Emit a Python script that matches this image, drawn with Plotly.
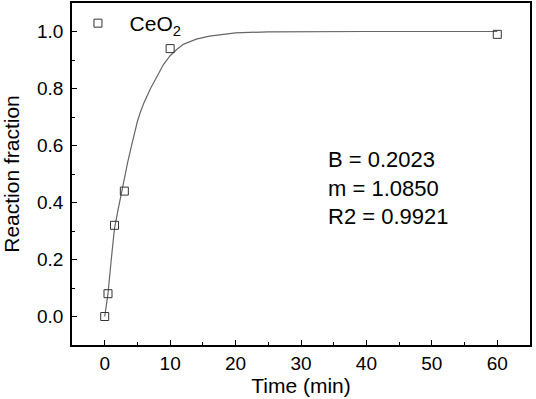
import plotly.graph_objects as go

# measured data
time_pts = [0, 0.5, 1.5, 3, 10, 60]
frac_pts = [0.0, 0.08, 0.32, 0.44, 0.94, 0.99]

# fitted curve
fit_t = [0, 0.5, 1, 1.5, 2, 2.5, 3, 3.5, 4, 4.5, 5, 5.5, 6, 7, 8, 9, 10, 11, 12, 13, 14, 16, 18, 20, 25, 30, 40, 50, 60]
fit_y = [0.0, 0.08, 0.2, 0.31, 0.37, 0.43, 0.49, 0.54, 0.59, 0.64, 0.685, 0.72, 0.75, 0.80, 0.845, 0.885, 0.915,
         0.937, 0.955, 0.965, 0.973, 0.984, 0.99, 0.995, 0.999, 1.0, 1.0, 1.0, 1.0]

x_ticks = [0, 10, 20, 30, 40, 50, 60]
y_ticks = [0.0, 0.2, 0.4, 0.6, 0.8, 1.0]
y_tick_text = ["0.0", "0.2", "0.4", "0.6", "0.8", "1.0"]

fit_text = "B = 0.2023<br>m = 1.0850<br>R2 = 0.9921"
series_name = "CeO<sub>2</sub>"

FONT = "Arial, Liberation Sans, sans-serif"

fig = go.Figure()
fig.add_trace(go.Scatter(x=fit_t, y=fit_y, mode="lines", showlegend=False,
                         line=dict(color="#666666", width=1.2)))
fig.add_trace(go.Scatter(x=time_pts, y=frac_pts, mode="markers", name="\u00a0\u00a0" + series_name,
                         marker=dict(symbol="square-open", size=8, color="#333333",
                                     line=dict(width=1, color="#333333"))))

axis_common = dict(showline=True, linecolor="black", linewidth=1.5, mirror=True,
                   ticks="inside", ticklen=5, tickwidth=1.2, tickcolor="black",
                   showgrid=False, zeroline=False, automargin=False,
                   tickfont=dict(family=FONT, size=19, color="black"))

fig.update_xaxes(range=[-5, 65], tickvals=x_ticks,
                 minor=dict(ticks="inside", ticklen=3, dtick=5, tick0=0, tickcolor="black"),
                 title=dict(text="Time (min)", font=dict(family=FONT, size=21, color="black"), standoff=4),
                 ticklabelstandoff=0,
                 **axis_common)
fig.update_yaxes(range=[-0.1, 1.1], tickvals=y_ticks, ticktext=y_tick_text,
                 minor=dict(ticks="inside", ticklen=3, dtick=0.1, tick0=0, tickcolor="black"),
                 title=dict(text="Reaction fraction", font=dict(family=FONT, size=21, color="black"), standoff=28),
                 ticklabelstandoff=3,
                 **axis_common)

fig.add_annotation(text=fit_text, xref="paper", yref="paper", x=0.555, y=0.459,
                   xanchor="left", yanchor="middle", align="left", showarrow=False,
                   font=dict(family=FONT, size=22, color="black"))

fig.update_layout(width=536, height=399, margin=dict(l=72, r=6, t=3, b=54),
                  paper_bgcolor="white", plot_bgcolor="white",
                  legend=dict(x=0.013, y=1.0, xanchor="left", yanchor="top", bgcolor="rgba(0,0,0,0)",
                              font=dict(family=FONT, size=21, color="black"), itemwidth=30),
                  font=dict(family=FONT))

fig.write_html("out.html", config={"displayModeBar": False},
               post_script="document.body.style.margin='0';document.body.style.overflow='hidden';")
